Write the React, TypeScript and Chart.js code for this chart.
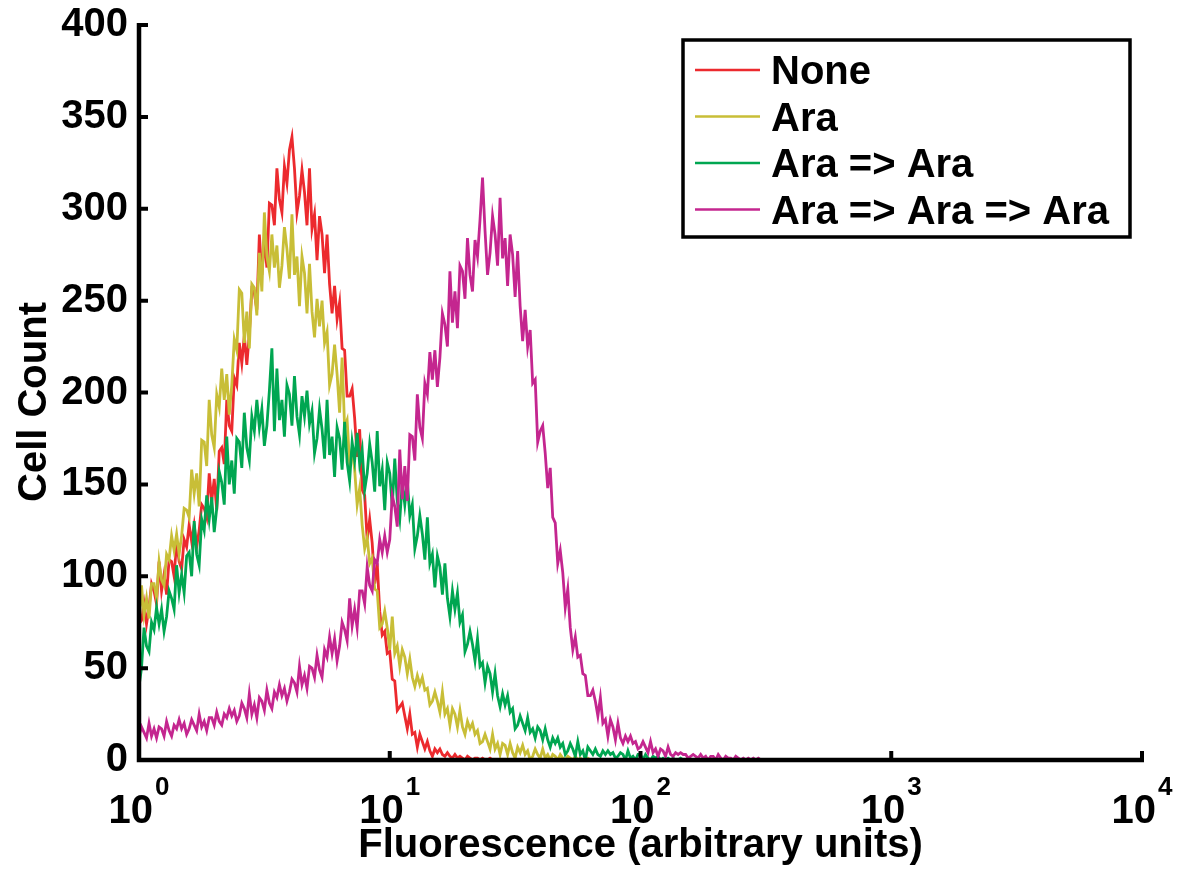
import React, { useEffect, useRef } from "react";
import { Chart, registerables } from "chart.js";

Chart.register(...registerables);

// Histogram bins are evenly spaced on the log axis, starting at 10^0.
const BINS_PER_DECADE = 100;

const seriesNames = ["None", "Ara", "Ara => Ara", "Ara => Ara => Ara"];
const seriesColors = ["#EC2A2E", "#C8BE37", "#00A651", "#C4268F"];

// Cell counts per bin.
const noneCounts = [
  74, 76, 85, 74, 83, 96, 92, 85, 108, 92, 101, 90, 109, 108, 100, 119, 108, 104, 120, 116,
  128, 119, 128, 116, 125, 139, 137, 132, 156, 141, 153, 136, 168, 170, 161, 196, 182, 179, 208, 204,
  227, 216, 231, 215, 232, 256, 254, 245, 286, 264, 283, 268, 303, 302, 291, 322, 305, 298, 323, 314,
  332, 339, 322, 298, 307, 321, 309, 291, 322, 289, 297, 272, 296, 286, 265, 286, 259, 243, 258, 240,
  249, 224, 223, 198, 198, 202, 186, 165, 180, 147, 144, 120, 131, 118, 96, 107, 81, 68, 70, 58,
  59, 44, 43, 27, 29, 31, 24, 17, 25, 14, 15, 7, 14, 10, 6, 10, 5, 2, 6, 4,
  6, 3, 2, 4, 2, 1, 3, 1, 2, 1, 0, 2, 1, 0, 1, 1, 0, 1, 0, 0, 1,
  0, 0, 0, 0, 0, 0, 0, 0, 0, 0,
];
const araCounts = [
  72, 95, 79, 88, 77, 96, 96, 88, 108, 98, 95, 112, 109, 122, 114, 123, 112, 122, 137, 136,
  132, 158, 145, 156, 138, 174, 173, 160, 196, 177, 170, 199, 192, 213, 196, 210, 188, 204, 229, 223,
  256, 254, 227, 244, 224, 259, 257, 242, 276, 255, 298, 274, 266, 286, 268, 280, 257, 269, 290, 278,
  262, 297, 264, 274, 247, 274, 265, 243, 270, 244, 230, 251, 236, 250, 227, 233, 204, 210, 226, 210,
  189, 219, 181, 185, 161, 169, 158, 139, 148, 128, 115, 121, 107, 110, 93, 92, 72, 74, 81, 72,
  60, 78, 58, 62, 51, 60, 56, 47, 55, 45, 40, 46, 41, 45, 38, 39, 30, 32, 37, 32,
  26, 37, 25, 28, 19, 28, 25, 18, 27, 18, 14, 21, 17, 20, 14, 16, 9, 10, 14, 10,
  6, 14, 6, 9, 3, 9, 8, 3, 9, 4, 1, 7, 4, 8, 3, 5, 0, 2, 6, 3,
  1, 6, 1, 3, 0, 3, 2, 0, 3, 1, 0, 2, 1, 0, 2, 0, 1, 0, 0, 1, 0,
];
const araAraCounts = [
  40, 50, 72, 62, 59, 75, 71, 83, 74, 82, 70, 78, 92, 88, 82, 106, 91, 101, 91, 111,
  113, 100, 130, 112, 106, 131, 125, 144, 131, 143, 124, 137, 157, 151, 139, 176, 150, 163, 145, 175,
  173, 159, 189, 170, 163, 187, 179, 196, 181, 191, 171, 182, 201, 224, 179, 213, 185, 196, 176, 204,
  199, 182, 209, 187, 177, 198, 187, 201, 183, 190, 167, 175, 191, 180, 164, 196, 166, 176, 154, 181,
  175, 158, 184, 162, 152, 173, 163, 178, 161, 169, 147, 156, 172, 162, 146, 179, 149, 158, 136, 162,
  156, 138, 164, 141, 131, 151, 139, 152, 133, 139, 115, 122, 133, 123, 109, 132, 107, 112, 94, 111,
  105, 90, 107, 88, 78, 92, 82, 91, 75, 79, 59, 63, 70, 63, 54, 66, 51, 53, 42, 51,
  47, 37, 47, 35, 29, 36, 30, 35, 26, 28, 17, 19, 24, 20, 16, 23, 15, 17, 12, 18,
  16, 11, 17, 11, 7, 12, 9, 12, 7, 9, 3, 5, 9, 6, 2, 10, 3, 5, 0, 7,
  5, 3, 6, 3, 2, 5, 3, 5, 3, 4, 1, 2, 4, 3, 0, 5, 1, 2, 0, 3,
  3, 0, 3, 1, 0, 2, 1, 2, 0, 1, 0, 1, 0, 1, 0, 0, 1, 0, 0, 1,
  0, 0, 0, 0, 0, 0, 0,
];
const araAraAraCounts = [
  13, 18, 15, 12, 20, 13, 17, 12, 18, 17, 13, 21, 16, 13, 19, 17, 22, 17, 20, 14,
  17, 22, 19, 16, 25, 18, 21, 16, 23, 23, 19, 26, 21, 19, 25, 23, 28, 24, 27, 21,
  24, 31, 28, 23, 36, 25, 30, 23, 34, 32, 27, 38, 31, 28, 37, 34, 41, 35, 39, 32,
  37, 44, 42, 37, 51, 41, 46, 39, 51, 50, 45, 57, 49, 45, 60, 56, 67, 58, 66, 54,
  62, 75, 71, 65, 88, 73, 82, 72, 92, 92, 85, 105, 95, 92, 109, 107, 120, 113, 122, 113,
  120, 144, 138, 127, 169, 142, 160, 141, 177, 176, 163, 199, 181, 175, 205, 199, 222, 207, 223, 203,
  219, 243, 237, 225, 266, 238, 255, 235, 269, 266, 251, 284, 264, 255, 283, 274, 294, 317, 288, 264,
  276, 296, 286, 269, 306, 273, 284, 258, 286, 275, 252, 277, 247, 228, 245, 225, 234, 205, 207, 173,
  179, 182, 167, 148, 159, 132, 129, 107, 114, 102, 83, 93, 72, 60, 67, 56, 57, 47, 46, 35,
  35, 38, 32, 24, 34, 20, 22, 13, 22, 18, 11, 20, 12, 9, 13, 10, 13, 9, 10, 6,
  7, 10, 7, 4, 10, 4, 6, 2, 6, 5, 2, 7, 3, 2, 4, 3, 4, 3, 3, 1,
  2, 3, 2, 1, 3, 1, 2, 0, 2, 2, 0, 3, 1, 0, 2, 1, 1, 0, 2, 1,
  0, 1, 0, 1, 0, 1, 0, 1, 0, 0, 0,
];

const yTicks = [0, 50, 100, 150, 200, 250, 300, 350, 400];
const xTickExponents = [0, 1, 2, 3, 4];
const xTitle = "Fluorescence (arbitrary units)";
const yTitle = "Cell Count";

const FONT = '"Liberation Sans", Arial, Helvetica, sans-serif';

function toPoints(counts: number[]) {
  return counts.map((c, i) => ({ x: Math.pow(10, i / BINS_PER_DECADE), y: c }));
}

const decorations = {
  id: "decorations",
  afterDatasetsDraw(chart: any) {
    const ctx: CanvasRenderingContext2D = chart.ctx;
    const xs = chart.scales.x;
    const ys = chart.scales.y;
    const x0 = xs.getPixelForValue(1);
    const xEnd = xs.getPixelForValue(10000);
    const y0 = ys.getPixelForValue(0);
    const yTop = ys.getPixelForValue(400);
    ctx.save();
    ctx.strokeStyle = "#000";
    ctx.lineCap = "butt";
    // axis lines
    ctx.lineWidth = 4.5;
    ctx.beginPath();
    ctx.moveTo(x0, yTop - 2);
    ctx.lineTo(x0, y0);
    ctx.lineTo(xEnd + 2, y0);
    ctx.stroke();
    // inward tick marks
    ctx.lineWidth = 4;
    ctx.beginPath();
    for (const v of yTicks) {
      const y = ys.getPixelForValue(v);
      ctx.moveTo(x0, y);
      ctx.lineTo(x0 + 9, y);
    }
    for (const e of xTickExponents) {
      const x = xs.getPixelForValue(Math.pow(10, e));
      ctx.moveTo(x, y0);
      ctx.lineTo(x, y0 - 9);
    }
    ctx.stroke();

    // x tick labels with superscript exponents
    ctx.fillStyle = "#000";
    ctx.textBaseline = "alphabetic";
    ctx.textAlign = "left";
    for (const e of xTickExponents) {
      const x = xs.getPixelForValue(Math.pow(10, e));
      ctx.font = `bold 40px ${FONT}`;
      const wBase = ctx.measureText("10").width;
      ctx.font = `bold 26px ${FONT}`;
      const wExp = ctx.measureText(String(e)).width;
      const total = wBase + 2 + wExp;
      const start = x - total / 2;
      ctx.font = `bold 40px ${FONT}`;
      ctx.fillText("10", start, 823);
      ctx.font = `bold 26px ${FONT}`;
      ctx.fillText(String(e), start + wBase + 2, 795);
    }

    // axis titles
    ctx.font = `bold 40px ${FONT}`;
    ctx.textAlign = "center";
    ctx.fillText(xTitle, (x0 + xEnd) / 2, 857);
    ctx.save();
    ctx.translate(46, 402);
    ctx.rotate(-Math.PI / 2);
    ctx.fillText(yTitle, 0, 0);
    ctx.restore();

    // legend box
    const lx = 683, ly = 40, lw = 447, lh = 197;
    ctx.fillStyle = "#fff";
    ctx.fillRect(lx, ly, lw, lh);
    ctx.lineWidth = 3.5;
    ctx.strokeStyle = "#000";
    ctx.strokeRect(lx, ly, lw, lh);
    ctx.textAlign = "left";
    ctx.textBaseline = "alphabetic";
    ctx.font = `bold 40px ${FONT}`;
    seriesNames.forEach((name, i) => {
      const cy = 70 + i * 46.5;
      ctx.strokeStyle = seriesColors[i];
      ctx.lineWidth = 2.5;
      ctx.beginPath();
      ctx.moveTo(695, cy);
      ctx.lineTo(760, cy);
      ctx.stroke();
      ctx.fillStyle = "#000";
      ctx.fillText(name, 771, cy + 14);
    });
    ctx.restore();
  },
};

export default function App() {
  const ref = useRef<HTMLCanvasElement>(null);
  useEffect(() => {
    const allCounts = [noneCounts, araCounts, araAraCounts, araAraAraCounts];
    const chart = new Chart(ref.current as HTMLCanvasElement, {
      type: "line",
      data: {
        datasets: allCounts.map((counts, i) => ({
          label: seriesNames[i],
          data: toPoints(counts),
          borderColor: seriesColors[i],
          backgroundColor: seriesColors[i],
          borderWidth: 2.8,
          pointRadius: 0,
          tension: 0,
          fill: false,
          order: 3 - i,
        })),
      },
      options: {
        animation: false,
        responsive: false,
        devicePixelRatio: 1,
        layout: { padding: { left: 0, top: 25, right: 39, bottom: 109 } },
        plugins: {
          legend: { display: false },
          tooltip: { enabled: false },
        },
        scales: {
          x: {
            type: "logarithmic",
            min: 1,
            max: 10000,
            display: false,
          },
          y: {
            type: "linear",
            min: 0,
            max: 400,
            grid: { display: false, drawTicks: false },
            border: { display: false },
            afterBuildTicks: (s: any) => {
              s.ticks = yTicks.map((v) => ({ value: v }));
            },
            afterFit: (s: any) => {
              s.width = 139;
              s.paddingTop = 0;
              s.paddingBottom = 0;
            },
            ticks: {
              autoSkip: false,
              color: "#000",
              padding: 11,
              font: { family: FONT, size: 40, weight: "bold" },
            },
          },
        },
      },
      plugins: [decorations],
    } as any);
    return () => chart.destroy();
  }, []);
  return (
    <div style={{ position: "fixed", left: 0, top: 0, width: 1181, height: 869, background: "#fff" }}>
      <canvas ref={ref} width={1181} height={869} style={{ width: 1181, height: 869, display: "block" }} />
    </div>
  );
}
